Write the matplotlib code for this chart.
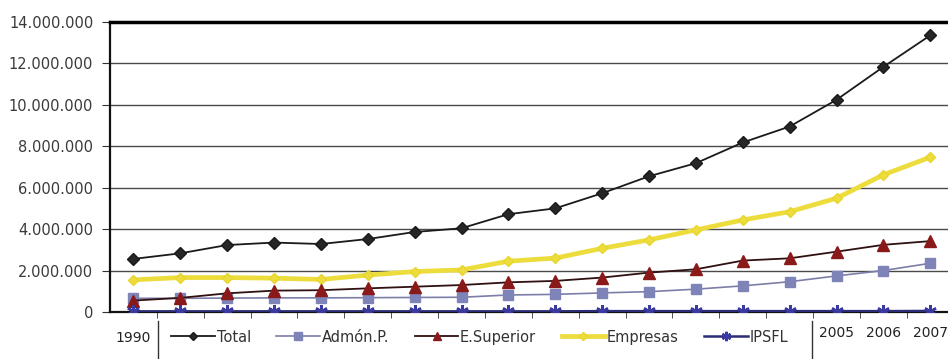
import matplotlib
matplotlib.use("Agg")
from matplotlib import pyplot as plt
from matplotlib.ticker import FuncFormatter
from matplotlib.lines import Line2D
from matplotlib.transforms import ScaledTranslation

# Gasto en I+D por sector de ejecucion, 1990-2007 (miles de euros)
years = list(range(1990, 2008))
total = [2560000, 2830000, 3230000, 3350000, 3280000, 3520000, 3860000, 4040000, 4720000,
         5000000, 5730000, 6550000, 7180000, 8180000, 8950000, 10240000, 11830000, 13350000]
admon = [660000, 660000, 670000, 680000, 680000, 690000, 700000, 710000, 820000,
         850000, 920000, 980000, 1100000, 1260000, 1460000, 1740000, 2000000, 2350000]
superior = [550000, 680000, 900000, 1030000, 1050000, 1140000, 1220000, 1300000, 1430000,
            1500000, 1660000, 1900000, 2060000, 2480000, 2590000, 2910000, 3240000, 3420000]
empresas = [1550000, 1660000, 1660000, 1630000, 1570000, 1780000, 1950000, 2030000, 2450000,
            2600000, 3070000, 3480000, 3960000, 4440000, 4840000, 5490000, 6620000, 7470000]
ipsfl = [30000, 30000, 30000, 30000, 30000, 30000, 30000, 30000, 30000,
         30000, 40000, 40000, 40000, 40000, 40000, 40000, 40000, 50000]
shown_years = [1990, 2005, 2006, 2007]

plt.rcParams['font.family'] = ['DejaVu Sans']

fig = plt.figure(figsize=(9.48, 3.59), dpi=100)
ax = fig.add_axes([0.116, 0.131, 0.89, 0.808])
x = list(range(len(years)))

ax.plot(x, empresas, color='#ecdc3c', lw=3.4, marker='D', ms=5, mec='#e8d530', label='Empresas', zorder=3)
ax.plot(x, admon, color='#7c7ea8', lw=1.2, marker='s', ms=7, mfc='#7f84b8', mec='#7f84b8', label='Admón.P.', zorder=4)
ax.plot(x, superior, color='#301010', lw=1.3, marker='^', ms=8, mfc='#8a1a1a', mec='#8a1a1a', label='E.Superior', zorder=5)
ax.plot(x, ipsfl, color='#2c2c78', lw=1.8, marker=(6, 2, 0), ms=9, mew=1.8, mec='#3a3aa0', label='IPSFL', zorder=6)
ax.plot(x, total, color='#1a1a1a', lw=1.3, marker='D', ms=6, mfc='#262626', label='Total', zorder=7)

ax.set_xlim(-0.5, len(years) - 0.5)
ax.set_ylim(0, 14000000)
ax.set_yticks(range(0, 14000001, 2000000))
ax.yaxis.set_major_formatter(FuncFormatter(lambda v, p: f"{int(v):,}".replace(",", ".")))
ax.grid(axis='y', color='#4a4a4a', lw=1.0)
ax.set_axisbelow(True)

ax.set_xticks(x)
ax.set_xticklabels([str(y) if y in shown_years else '' for y in years])
ax.set_xticks([i - 0.5 for i in x[1:]], minor=True)
ax.tick_params(axis='x', which='major', length=0, pad=14, labelsize=10, labelcolor='#222222')
ax.tick_params(axis='x', which='minor', length=4, color='#333333')
ax.tick_params(axis='y', length=6, pad=6, labelsize=10.5, labelcolor='#3a3a3a', color='#333333')

# los ultimos años quedan algo mas arriba, junto al separador derecho
up = ScaledTranslation(0, 0.05, fig.dpi_scale_trans)
for y, lbl in zip(years, ax.get_xticklabels()):
    if y >= 2005:
        lbl.set_transform(lbl.get_transform() + up)

for side in ['left', 'bottom']:
    ax.spines[side].set_color('#111111')
    ax.spines[side].set_linewidth(1.6)
ax.spines['top'].set_linewidth(2.5)
ax.spines['right'].set_visible(False)

handles, labels = ax.get_legend_handles_labels()
order = ['Total', 'Admón.P.', 'E.Superior', 'Empresas', 'IPSFL']
hmap = dict(zip(labels, handles))
leg = fig.legend([hmap[k] for k in order], order, loc='center', bbox_to_anchor=(0.506, 0.061),
                 ncol=5, frameon=False, fontsize=10.5, handlelength=3.0, columnspacing=1.75,
                 handletextpad=0.1, labelcolor='#333333')
for h in leg.legend_handles:
    h.set_markersize(h.get_markersize() * 0.75)

# separadores verticales a ambos lados de la leyenda
for fx in [0.167, 0.857]:
    fig.add_artist(Line2D([fx, fx], [0.0, 0.105], transform=fig.transFigure, color='#333333', lw=1))

fig.savefig('out.png', dpi=100)
